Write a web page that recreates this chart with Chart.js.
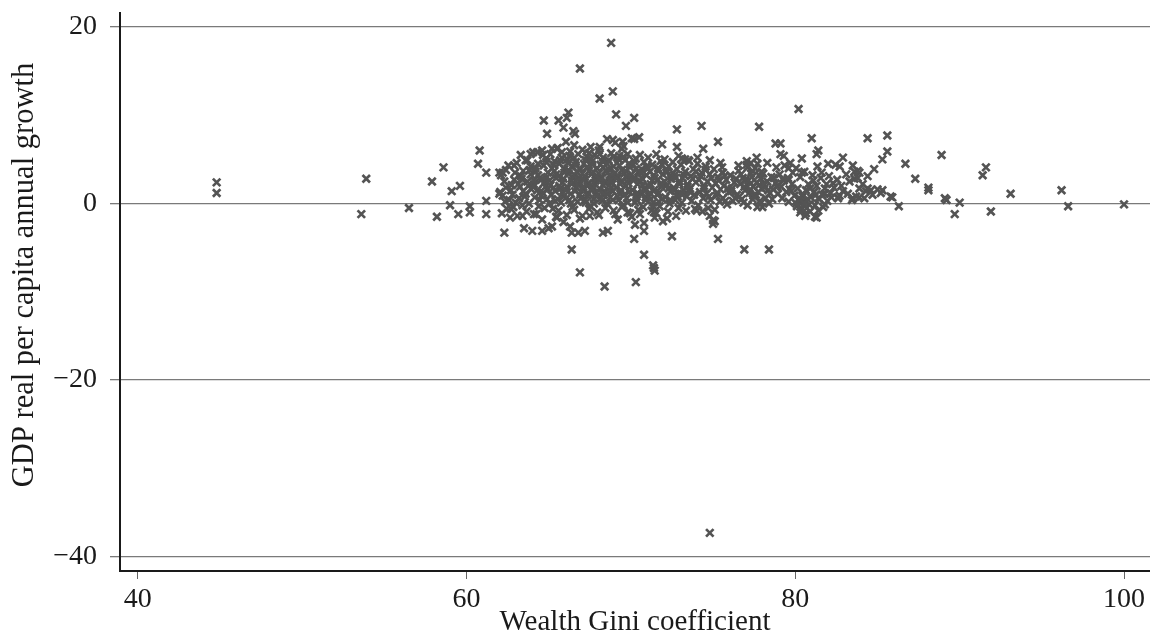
<!DOCTYPE html>
<html><head><meta charset="utf-8">
<script src="https://cdn.jsdelivr.net/npm/chart.js@4.4.1/dist/chart.umd.min.js"></script>
<style>html,body{margin:0;padding:0;background:#fff;}#wrap{width:1150px;height:640px;position:relative;}</style>
</head><body><div id="wrap"><canvas id="c" width="1150" height="640"></canvas></div>
<script>
const xTicks = [40, 60, 80, 100];
const yTicks = [-40, -20, 0, 20];
const xTitle = 'Wealth Gini coefficient';
const yTitle = 'GDP real per capita annual growth';

// [wealth Gini, GDP growth]
const farLeft = [[44.8,2.4],[44.8,1.2],[53.9,2.8],[53.6,-1.2],[56.5,-0.5],[57.9,2.5],[58.2,-1.5],[58.6,4.1],[59.1,1.4],[59.6,2.0],[59.0,-0.2],[59.5,-1.2],[60.2,-0.3],[60.2,-1.0],[60.8,6.0],[60.7,4.5],[61.2,3.5],[61.2,0.3],[61.2,-1.2],[62.0,3.5],[62.0,1.1]];
const upperEdge = [[68.8,18.2],[66.9,15.3],[68.1,11.9],[68.9,12.7],[69.1,10.1],[70.2,9.7],[69.7,8.8],[64.7,9.4],[64.9,7.9],[65.6,9.4],[66.2,10.3],[66.1,9.7],[65.9,8.6],[66.5,8.2],[66.6,7.9],[72.8,8.4],[74.3,8.8],[77.8,8.7],[75.3,7.0],[71.9,6.7],[72.8,6.4],[74.4,6.2],[70.5,7.5],[70.2,7.3],[68.9,7.2],[69.5,7.0],[68.1,6.4],[65.5,6.2],[63.9,5.6],[64.3,5.8],[63.7,4.9],[62.9,4.3],[62.2,3.5],[78.8,6.8],[79.1,6.8],[79.1,5.6],[78.7,2.9],[77.7,4.5],[77.1,4.1],[75.6,3.5],[74.8,4.9],[73.1,5.1],[73.5,4.9],[80.2,10.7],[81.0,7.4],[79.3,5.4],[80.4,5.1],[81.3,5.6],[81.4,6.0],[79.7,4.6],[79.6,4.0],[80.4,3.5],[77.3,4.6],[78.3,4.6],[77.4,3.7],[79.6,2.7],[80.9,1.7],[81.4,0.6],[80.3,0.3],[80.5,-0.2],[80.6,-1.4],[81.3,-1.6]];
const lowerEdge = [[62.3,-3.3],[62.7,-0.6],[63.4,-1.4],[64.1,-1.2],[63.5,-2.8],[64.0,-3.1],[64.6,-3.1],[65.0,-2.8],[66.4,-5.2],[66.9,-7.8],[66.4,-3.3],[66.8,-3.3],[67.2,-3.1],[68.3,-3.3],[68.6,-3.1],[68.4,-9.4],[69.2,-1.8],[70.2,-4.0],[70.8,-3.1],[70.8,-5.8],[71.4,-7.3],[71.45,-7.6],[71.35,-7.0],[70.3,-8.9],[72.5,-3.7],[75.0,-2.3],[75.1,-2.0],[75.3,-4.0],[76.9,-5.2],[78.4,-5.2],[71.4,-1.0],[72.2,-1.7],[74.0,-0.8],[74.8,-1.4],[75.0,-1.9],[65.5,-1.6],[65.9,-2.1],[67.5,-1.4],[69.8,-1.0],[74.8,-37.3]];
const rightTail = [[84.4,7.4],[85.6,7.7],[85.6,5.9],[85.3,5.0],[88.9,5.5],[86.7,4.5],[87.3,2.8],[88.1,1.8],[88.1,1.5],[89.1,0.6],[89.2,0.4],[89.7,-1.2],[90.0,0.1],[86.3,-0.3],[82.9,5.2],[82.7,4.2],[82.0,4.5],[83.5,4.3],[83.8,3.7],[83.9,3.5],[83.6,2.8],[84.4,1.7],[84.6,1.5],[85.0,1.6],[85.3,1.5],[85.8,0.8],[85.9,0.7],[83.9,0.7],[83.5,0.6],[82.6,0.6],[82.6,0.7],[91.6,4.1],[91.4,3.2],[93.1,1.1],[96.2,1.5],[96.6,-0.3],[100.0,-0.1],[91.9,-0.9],[81.8,-0.1],[81.2,-1.5],[78.0,-0.4],[82.2,0.7],[81.8,1.1]];
const coreWest = [[62.1,3.2],[62.4,1.8],[62.2,0.9],[62.45,-0.6],[62.3,2.5],[62.05,1.3],[62.35,0.2],[62.15,-1.1],[62.4,3.8],
[62.55,4.3],[62.9,2.7],[62.7,1.5],[62.6,0.4],[62.85,-0.4],[62.75,2.1],[62.95,3.5],[62.65,-1.6],[62.8,1.0],
[63.05,4.6],[63.3,3.1],[63.15,2.2],[63.45,1.4],[63.2,0.6],[63.4,-0.2],[63.1,-1.4],[63.35,2.8],[63.25,1.9],[63.45,3.7],[63.3,5.5],[63.0,0.1],
[63.6,4.9],[63.85,3.8],[63.7,2.5],[63.95,1.6],[63.55,0.8],[63.8,0.0],[63.65,-0.9],[63.9,3.3],[63.75,2.0],[63.6,1.1],[63.9,4.2],
[64.05,5.8],[64.35,4.5],[64.2,3.6],[64.45,2.9],[64.1,2.2],[64.3,1.5],[64.15,0.7],[64.4,-0.3],[64.25,-1.2],[64.35,3.2],[64.05,1.9],[64.45,0.4],[64.2,4.0],[64.1,2.6],
[64.6,6.0],[64.85,5.1],[64.7,4.3],[64.95,3.5],[64.55,2.7],[64.8,1.9],[64.65,1.2],[64.9,0.5],[64.75,-0.5],[64.6,-1.8],[64.9,3.0],[64.7,2.3],[64.55,0.9],[64.85,4.7],[64.95,1.6],[64.65,5.5],
[65.1,5.6],[65.35,4.8],[65.2,4.0],[65.45,3.3],[65.05,2.6],[65.3,1.8],[65.15,1.0],[65.4,0.3],[65.25,-0.6],[65.45,-1.5],[65.2,-2.6],[65.35,3.7],[65.1,2.1],[65.4,1.4],[65.05,0.0],[65.3,4.4],[65.2,6.2],[65.45,2.9],
[65.55,6.3],[65.8,5.2],[65.65,4.5],[65.95,3.9],[65.6,3.1],[65.85,2.4],[65.7,1.7],[65.9,0.8],[65.75,0.1],[65.6,-0.8],[65.95,3.5],[65.65,2.0],[65.85,1.2],[65.7,4.9],[65.55,0.5],[65.9,2.8],[65.8,5.8]];
const coreMid = [[66.05,7.0],[66.3,5.9],[66.15,5.0],[66.45,4.2],[66.2,3.4],[66.4,2.6],[66.1,1.9],[66.35,1.1],[66.25,0.4],[66.45,-0.4],[66.1,-1.3],[66.3,-2.6],[66.2,3.8],[66.4,2.2],[66.05,1.5],[66.35,0.0],[66.15,4.6],[66.45,3.0],[66.25,5.4],
[66.55,6.6],[66.8,5.6],[66.65,4.7],[66.95,3.9],[66.6,3.2],[66.85,2.5],[66.7,1.8],[66.9,1.0],[66.75,0.2],[66.55,-0.7],[66.9,-1.7],[66.65,4.3],[66.85,2.9],[66.6,1.4],[66.95,0.6],[66.7,3.6],[66.8,2.1],[66.55,5.2],
[67.05,6.1],[67.3,5.3],[67.15,4.5],[67.45,3.7],[67.2,3.0],[67.4,2.3],[67.1,1.6],[67.35,0.9],[67.25,0.1],[67.45,-0.6],[67.05,-1.4],[67.3,4.1],[67.15,2.7],[67.4,1.2],[67.2,0.4],[67.05,3.4],[67.35,2.0],[67.25,4.9],[67.45,5.7],[67.1,1.9],
[67.55,6.4],[67.8,5.5],[67.65,4.8],[67.95,4.0],[67.6,3.3],[67.85,2.6],[67.7,1.9],[67.9,1.2],[67.75,0.5],[67.55,-0.3],[67.95,-1.0],[67.65,4.4],[67.85,3.0],[67.6,1.5],[67.9,0.8],[67.7,3.6],[67.8,2.2],[67.55,5.1],[67.95,2.9],[67.75,0.0],[67.65,1.7],
[68.05,6.0],[68.3,5.2],[68.15,4.4],[68.45,3.7],[68.2,3.0],[68.4,2.4],[68.1,1.7],[68.35,1.0],[68.25,0.3],[68.45,-0.5],[68.05,-1.3],[68.3,4.1],[68.15,2.7],[68.4,1.4],[68.2,0.6],[68.05,3.4],[68.35,2.0],[68.25,4.8],[68.45,2.5],[68.1,5.6],[68.3,1.1],
[68.55,7.3],[68.8,5.7],[68.65,4.9],[68.95,4.2],[68.6,3.5],[68.85,2.8],[68.7,2.1],[68.9,1.4],[68.75,0.7],[68.55,0.0],[68.95,-0.8],[68.65,3.9],[68.85,2.4],[68.6,1.1],[68.9,0.4],[68.7,3.2],[68.8,1.8],[68.55,4.5],[68.95,5.3],[68.75,2.6],
[69.05,6.9],[69.3,5.4],[69.15,4.6],[69.45,3.8],[69.2,3.1],[69.4,2.5],[69.1,1.8],[69.35,1.1],[69.25,0.4],[69.45,-0.4],[69.05,-1.2],[69.3,4.3],[69.15,2.9],[69.4,1.5],[69.2,0.8],[69.05,3.5],[69.35,2.2],[69.25,5.0],[69.45,6.2],
[69.55,6.5],[69.8,5.6],[69.65,4.9],[69.95,4.1],[69.6,3.4],[69.85,2.7],[69.7,2.0],[69.9,1.3],[69.75,0.6],[69.55,-0.2],[69.95,-1.1],[69.65,3.7],[69.85,2.3],[69.6,1.0],[69.9,4.5],[69.7,3.0],[69.8,0.1],[69.55,5.3]];
const coreEast = [[70.05,7.4],[70.3,5.1],[70.15,4.4],[70.45,3.6],[70.2,2.9],[70.4,2.2],[70.1,1.5],[70.35,0.8],[70.25,0.1],[70.45,-0.7],[70.05,-1.5],[70.3,3.9],[70.15,2.6],[70.4,1.2],[70.2,4.8],[70.05,3.3],[70.35,0.4],[70.25,-2.4],
[70.55,5.5],[70.8,4.7],[70.65,3.9],[70.95,3.2],[70.6,2.5],[70.85,1.8],[70.7,1.1],[70.9,0.4],[70.75,-0.4],[70.55,-1.2],[70.95,4.2],[70.65,2.9],[70.85,1.5],[70.6,3.5],[70.9,0.7],[70.7,2.1],[70.8,-2.2],
[71.05,5.2],[71.3,4.4],[71.15,3.6],[71.45,2.9],[71.2,2.2],[71.4,1.5],[71.1,0.8],[71.35,0.1],[71.25,-0.8],[71.45,-1.6],[71.05,4.0],[71.3,2.6],[71.15,1.2],[71.4,3.2],[71.2,0.5],[71.35,-0.3],[71.1,1.9],
[71.55,5.6],[71.8,4.8],[71.65,4.0],[71.95,3.3],[71.6,2.6],[71.85,1.9],[71.7,1.2],[71.9,0.5],[71.75,-0.3],[71.55,-1.1],[71.95,-2.0],[71.65,3.7],[71.85,2.3],[71.6,1.0],[71.9,4.4],[71.7,0.2],
[72.05,5.0],[72.3,4.2],[72.15,3.5],[72.45,2.8],[72.2,2.1],[72.4,1.4],[72.1,0.7],[72.35,0.0],[72.25,-0.9],[72.45,3.1],[72.05,2.5],[72.3,1.7],[72.15,3.8],[72.4,0.4],
[72.55,4.7],[72.8,3.9],[72.65,3.2],[72.95,2.5],[72.6,1.8],[72.85,1.1],[72.7,0.4],[72.9,-0.5],[72.75,-1.4],[72.55,3.5],[72.95,2.2],[72.65,1.5],[72.85,0.8],[72.7,2.9],[72.9,5.4],
[73.05,4.4],[73.3,3.6],[73.15,2.9],[73.45,2.2],[73.2,1.5],[73.4,0.8],[73.1,0.1],[73.35,-0.8],[73.25,3.2],[73.45,1.9],[73.05,1.1],[73.3,5.0],
[73.55,4.8],[73.8,3.9],[73.65,3.1],[73.95,2.4],[73.6,1.7],[73.85,1.0],[73.7,0.3],[73.9,-0.6],[73.75,2.8],[73.55,1.4],[73.95,3.6],
[74.05,4.5],[74.3,3.5],[74.15,2.7],[74.45,2.0],[74.2,1.3],[74.4,0.6],[74.1,-0.2],[74.35,-0.9],[74.25,3.1],[74.45,1.7],[74.05,5.2],
[74.55,4.2],[74.8,3.3],[74.65,2.5],[74.95,1.8],[74.6,1.1],[74.85,0.4],[74.7,-0.5],[74.9,2.9],[74.75,0.8],[74.55,3.8],
[75.05,3.9],[75.3,3.0],[75.15,2.3],[75.45,1.6],[75.2,0.9],[75.4,0.2],[75.1,-0.7],[75.35,2.6],[75.25,1.2],[75.45,4.6],
[75.55,3.5],[75.8,2.7],[75.65,2.0],[75.95,1.3],[75.6,0.6],[75.85,-0.1],[75.7,3.1],[75.9,1.7],[75.75,0.3],[75.55,4.1]];
const coreFar = [[76.05,3.2],[76.3,2.4],[76.15,1.7],[76.45,1.0],[76.2,0.3],[76.4,2.8],[76.1,1.4],[76.35,0.6],
[76.55,3.7],[76.8,2.9],[76.65,2.2],[76.95,1.5],[76.6,0.8],[76.85,0.1],[76.7,3.3],[76.9,1.9],[76.75,0.5],[76.55,4.3],[76.95,2.6],
[77.05,4.4],[77.3,3.4],[77.15,2.6],[77.45,1.9],[77.2,1.2],[77.4,0.5],[77.1,-0.2],[77.35,3.0],[77.25,1.6],[77.45,0.9],[77.05,4.8],[77.3,2.3],
[77.55,4.0],[77.8,3.2],[77.65,2.4],[77.95,1.7],[77.6,1.0],[77.85,0.3],[77.7,-0.4],[77.9,2.8],[77.75,1.3],[77.55,0.7],[77.95,3.6],[77.65,5.2],[77.8,2.1],
[78.05,3.4],[78.3,2.5],[78.15,1.8],[78.45,1.2],[78.2,0.6],[78.4,0.0],[78.1,2.2],[78.35,1.5],
[78.55,3.0],[78.8,2.3],[78.65,1.6],[78.95,1.1],[78.6,0.5],[78.85,4.1],[78.9,1.9],
[79.05,3.3],[79.3,2.6],[79.15,1.9],[79.45,1.3],[79.2,0.6],[79.35,4.3],[79.25,2.8],
[79.55,2.9],[79.8,2.2],[79.65,1.6],[79.95,0.9],[79.6,0.2],[79.85,3.5],[79.75,1.4],
[80.05,4.0],[80.3,3.0],[80.15,1.7],[80.45,0.8],[80.2,0.4],[80.4,0.1],[80.1,-0.3],[80.35,-0.7],[80.25,0.6],[80.45,1.0],[80.3,-1.0],[80.05,0.0],
[80.55,3.6],[80.8,2.2],[80.65,1.5],[80.95,0.7],[80.6,0.3],[80.85,-0.1],[80.7,-0.5],[80.9,-0.9],[80.75,0.5],[80.55,0.0],[80.65,-1.1],
[81.05,3.2],[81.3,2.0],[81.15,1.3],[81.45,0.5],[81.2,-0.2],[81.4,-0.8],[81.1,2.6],[81.35,4.2],[81.25,1.0],
[81.55,2.9],[81.8,1.7],[81.65,1.0],[81.95,0.3],[81.7,-0.4],[81.9,2.2],[81.6,3.5],
[82.05,3.1],[82.3,2.3],[82.15,1.2],[82.45,4.4],[82.35,1.8],
[82.55,2.7],[82.8,2.0],[82.7,0.9],[82.9,1.4],
[83.1,3.3],[83.3,2.5],[83.2,1.1],[83.45,0.4],
[83.6,3.6],[83.8,2.9],[83.7,0.8],[83.9,1.7],
[84.1,2.2],[84.3,1.4],[84.2,0.6],[84.4,3.1],
[84.7,1.0],[84.8,3.9],[85.2,1.2]];

const allPairs = [].concat(farLeft, upperEdge, lowerEdge, rightTail, coreWest, coreMid, coreEast, coreFar);
const points = allPairs.map(p => ({x: p[0], y: p[1]}));

const serif = "'Liberation Serif', 'DejaVu Serif', serif";
const fmt = v => (v < 0 ? '\u2212' + Math.abs(v) : String(v));

// y-axis title drawn as canvas text (centred slightly above the plot middle, as in the reference)
const yTitlePlugin = {
  id: 'yTitlePlugin',
  afterDraw(chart) {
    const ctx = chart.ctx;
    ctx.save();
    ctx.translate(25, 275);
    ctx.rotate(-Math.PI / 2);
    ctx.font = "30.5px " + serif;
    ctx.fillStyle = '#1a1a1a';
    ctx.textAlign = 'center';
    ctx.textBaseline = 'middle';
    ctx.fillText(yTitle, 0, 0);
    ctx.restore();
  }
};

new Chart(document.getElementById('c'), {
  type: 'scatter',
  data: { datasets: [{
    data: points,
    pointStyle: 'crossRot',
    pointRadius: 5.3,
    pointHoverRadius: 5.3,
    borderColor: '#545454',
    backgroundColor: '#545454',
    pointBorderWidth: 2.7
  }]},
  plugins: [yTitlePlugin],
  options: {
    responsive: false,
    animation: false,
    devicePixelRatio: 1,
    layout: { autoPadding: false, padding: { top: 13, right: 0, bottom: 0, left: 0 } },
    plugins: { legend: { display: false }, tooltip: { enabled: false } },
    scales: {
      x: {
        type: 'linear', min: 38.92, max: 101.58,
        afterBuildTicks: s => { s.ticks = xTicks.map(v => ({value: v})); },
        afterFit: s => { s.height = 69; s.paddingLeft = 0; s.paddingRight = 0; },
        grid: { drawOnChartArea: false, drawTicks: true, tickLength: 8, tickColor: '#666', lineWidth: 1 },
        border: { display: true, color: '#1a1a1a', width: 2 },
        ticks: { color: '#1a1a1a', font: { family: serif, size: 28 }, padding: 4, callback: v => fmt(v), maxRotation: 0 },
        title: { display: true, text: xTitle, color: '#1a1a1a', font: { family: serif, size: 29, lineHeight: 1.2 }, padding: { top: 0, bottom: 0 } }
      },
      y: {
        type: 'linear', min: -41.62, max: 21.58,
        afterBuildTicks: s => { s.ticks = yTicks.map(v => ({value: v})); },
        afterFit: s => { s.width = 120; s.paddingTop = 0; s.paddingBottom = 0; },
        grid: { drawOnChartArea: true, drawTicks: true, tickLength: 10, color: '#7a7a7a', tickColor: '#7a7a7a', lineWidth: 1.3 },
        border: { display: true, color: '#1a1a1a', width: 2 },
        ticks: { color: '#1a1a1a', font: { family: serif, size: 28 }, padding: 13, callback: v => fmt(v) },
        title: { display: false }
      }
    }
  }
});
</script>
</body></html>
